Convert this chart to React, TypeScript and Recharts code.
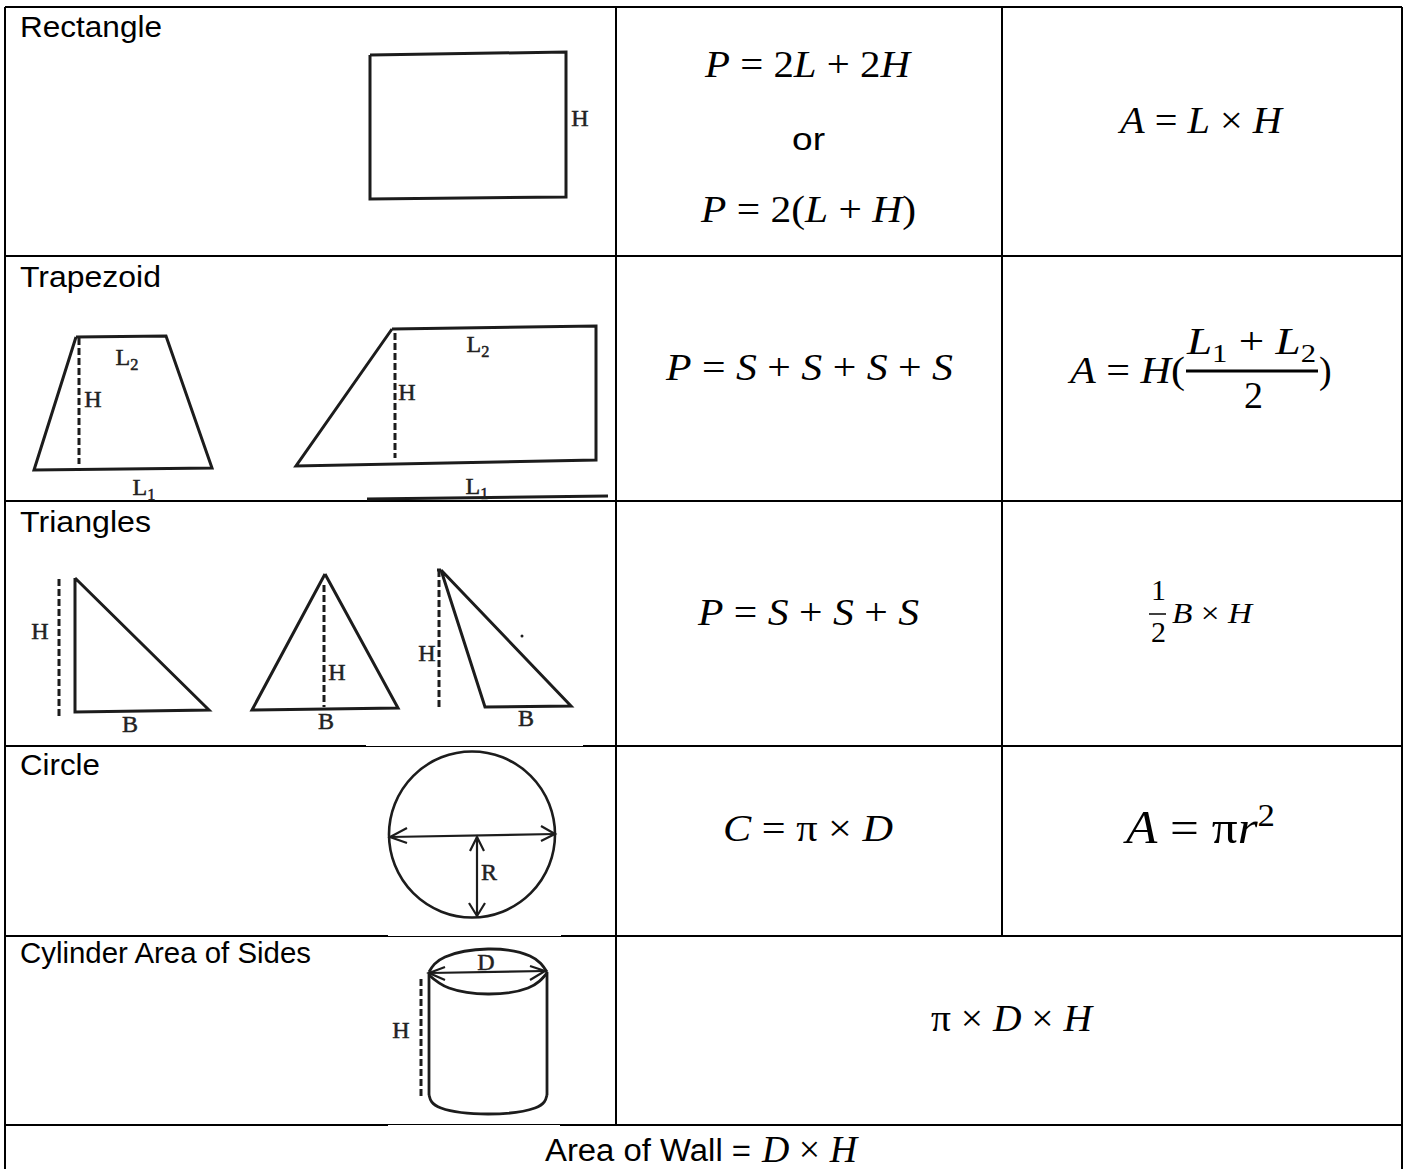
import React from "react";
import { LineChart, Line, XAxis, YAxis, ReferenceDot, LabelList } from "recharts";

type P = { x: number; y: number };
type T = P & { text: string };
const pts = (...v: number[]): P[] => {
  const out: P[] = [];
  for (let i = 0; i < v.length; i += 2) out.push({ x: v[i], y: v[i + 1] });
  return out;
};

// table rules
const gridLines: P[][] = [
  pts(5, 7, 1402, 7),
  pts(5, 256, 1402, 256),
  pts(5, 501, 1402, 501),
  pts(5, 746, 1402, 746),
  pts(5, 936, 1402, 936),
  pts(5, 1125, 1402, 1125),
  pts(5, 7, 5, 1169),
  pts(1402, 7, 1402, 1169),
  pts(616, 7, 616, 1125),
  pts(1002, 7, 1002, 936),
];
// where the pasted scans cover half of a rule
const ruleCovers: P[][] = [
  pts(366, 745.5, 583, 745.5),
  pts(388, 935.5, 561, 935.5),
  pts(388, 1125.5, 560, 1125.5),
];

// scanned outlines
const solidOutlines: P[][] = [
  pts(370, 55, 566, 52, 566, 197, 370, 199, 370, 55),
  pts(76, 337, 166, 336, 212, 468, 34, 470, 76, 337),
  pts(392, 329, 596, 326, 596, 460, 296, 466, 392, 329),
  pts(367, 499, 608, 496),
  pts(75, 578, 209, 710, 75, 712, 75, 578),
  pts(325, 574, 398, 708, 252, 710, 325, 574),
  pts(441, 570, 571, 706, 485, 707, 441, 570),
  pts(437, 570, 441, 570),
];
const thinOutlines: P[][] = [
  pts(390, 837, 555, 834),
  pts(407, 828, 390, 837, 407, 843),
  pts(541, 826, 555, 834, 541, 841),
  pts(477, 837, 477, 916),
  pts(470, 851, 477, 837, 484, 851),
  pts(469, 903, 477, 916, 485, 903),
  pts(429, 973, 545, 971),
  pts(445, 967, 429, 973, 445, 980),
  pts(530, 966, 545, 971, 530, 980),
];
const cylinderSides: P[][] = [pts(429, 972, 429, 1095), pts(547, 972, 547, 1095)];
const curvedOutlines: P[][] = [
  pts(429, 972, 445, 957, 488, 949, 530, 956, 547, 972),
  pts(429, 975, 449, 988, 488, 994, 528, 988, 547, 973),
  pts(429, 1095, 441, 1108, 488, 1114, 535, 1108, 547, 1095),
];
const dashedOutlines: P[][] = [
  pts(79, 338, 79, 464),
  pts(395, 333, 395, 458),
  pts(59, 579, 59, 717),
  pts(324, 585, 324, 707),
  pts(439, 570, 439, 708),
  pts(421, 979, 421, 1099),
];
const fractionBars: P[][] = [pts(1186, 371, 1318, 371)];
const thinBars: P[][] = [pts(1149, 614, 1166, 614)];
const circleCentre: P = { x: 472, y: 834.5 };
const speck: P = { x: 522, y: 636 };

// text
const headings: T[] = [
  { x: 20, y: 37, text: "Rectangle" },
  { x: 20, y: 287, text: "Trapezoid" },
  { x: 20, y: 532, text: "Triangles" },
  { x: 20, y: 775, text: "Circle" },
  { x: 20, y: 963, text: "Cylinder Area of Sides" },
];
const plainNotes: T[] = [
  { x: 792, y: 150, text: "or" },
  { x: 545, y: 1161, text: "Area of Wall =" },
];
const scanLetters: T[] = [
  { x: 580, y: 126, text: "H" },
  { x: 127, y: 365, text: "L₂" },
  { x: 93, y: 407, text: "H" },
  { x: 144, y: 495, text: "L₁" },
  { x: 478, y: 352, text: "L₂" },
  { x: 407, y: 400, text: "H" },
  { x: 477, y: 494, text: "L₁" },
  { x: 40, y: 639, text: "H" },
  { x: 130, y: 732, text: "B" },
  { x: 337, y: 680, text: "H" },
  { x: 326, y: 729, text: "B" },
  { x: 427, y: 661, text: "H" },
  { x: 526, y: 726, text: "B" },
  { x: 489, y: 880, text: "R" },
  { x: 486, y: 970, text: "D" },
  { x: 401, y: 1038, text: "H" },
];
const mathMain: T[] = [
  { x: 705, y: 77, text: "P = 2L + 2H" },
  { x: 701, y: 222, text: "P = 2(L + H)" },
  { x: 1120, y: 133, text: "A = L × H" },
  { x: 666, y: 380, text: "P = S + S + S + S" },
  { x: 1070, y: 383, text: "A = H(" },
  { x: 1187, y: 354, text: "L₁ + L₂" },
  { x: 1244, y: 408, text: "2" },
  { x: 1319, y: 383, text: ")" },
  { x: 698, y: 625, text: "P = S + S + S" },
  { x: 723, y: 841, text: "C = π × D" },
  { x: 931, y: 1031, text: "π × D × H" },
  { x: 762, y: 1162, text: "D × H" },
];
const mathSmall: T[] = [{ x: 1172, y: 623, text: "B × H" }];
const mathMid: T[] = [
  { x: 1151, y: 600, text: "1" },
  { x: 1151, y: 642, text: "2" },
];
const mathLarge: T[] = [{ x: 1126, y: 843, text: "A = πr²" }];

const textWidths: Record<string, number> = {
  Rectangle: 142,
  Trapezoid: 141,
  Triangles: 131,
  Circle: 80,
  "Cylinder Area of Sides": 291,
  or: 33,
  "Area of Wall =": 206,
  "P = 2L + 2H": 205,
  "P = 2(L + H)": 215,
  "A = L × H": 162,
  "P = S + S + S + S": 287,
  "A = H(": 115,
  "L₁ + L₂": 129,
  "P = S + S + S": 221,
  "C = π × D": 170,
  "π × D × H": 161,
  "D × H": 95,
  "B × H": 80,
  "A = πr²": 149,
};

const INK = "#000";
const SCAN = "#1c1c1c";
const MATH_FONT = "'Liberation Serif', serif";
const SANS_FONT = "'Liberation Sans', Arial, sans-serif";
const SCRIPT: Record<string, { digit: string; shift: number }> = {
  "₁": { digit: "1", shift: 0.22 },
  "₂": { digit: "2", shift: 0.22 },
  "²": { digit: "2", shift: -0.38 },
};

const richSpans = (s: string, size: number, math: boolean) => {
  let shifted = 0;
  return s
    .split(/([A-Za-z]|[₁₂²])/)
    .filter(Boolean)
    .map((part, i) => {
      const script = SCRIPT[part];
      const target = script ? script.shift * size : 0;
      const dy = target - shifted;
      shifted = target;
      return (
        <tspan
          key={i}
          dy={dy || undefined}
          fontSize={script ? size * 0.68 : undefined}
          fontStyle={math && /[A-Za-z]/.test(part) ? "italic" : "normal"}
        >
          {script ? script.digit : part}
        </tspan>
      );
    });
};

const pathLine = (
  key: string,
  data: P[],
  stroke: string,
  strokeWidth: number,
  extra: Record<string, unknown> = {},
) => (
  <Line
    key={key}
    data={data}
    dataKey="y"
    type="linear"
    stroke={stroke}
    strokeWidth={strokeWidth}
    dot={false}
    activeDot={false}
    legendType="none"
    isAnimationActive={false}
    {...extra}
  />
);

const textLayer = (
  key: string,
  rows: T[],
  font: string,
  size: number,
  opts: { math?: boolean; anchor?: "start" | "middle"; fill?: string; bold?: number } = {},
) => (
  <Line
    key={key}
    data={rows}
    dataKey="y"
    stroke="none"
    dot={false}
    activeDot={false}
    legendType="none"
    isAnimationActive={false}
  >
    <LabelList
      dataKey="text"
      content={(p: any) => {
        const s = String(p.value);
        const w = textWidths[s];
        return (
          <text
            x={p.x}
            y={p.y}
            fontFamily={font}
            fontSize={size}
            fill={opts.fill ?? INK}
            stroke={opts.bold ? opts.fill ?? INK : "none"}
            strokeWidth={opts.bold ?? 0}
            textAnchor={opts.anchor ?? "start"}
            {...(w ? { textLength: w, lengthAdjust: "spacingAndGlyphs" } : {})}
          >
            {richSpans(s, size, !!opts.math)}
          </text>
        );
      }}
    />
  </Line>
);

export default function App() {
  return (
    <div style={{ position: "absolute", left: 0, top: 0, width: 1403, height: 1169, background: "#fff" }}>
      <LineChart width={1403} height={1169} margin={{ top: 0, right: 0, bottom: 0, left: 0 }}>
        <XAxis type="number" dataKey="x" domain={[0, 1403]} hide allowDataOverflow />
        <YAxis type="number" domain={[0, 1169]} reversed hide allowDataOverflow />
        {gridLines.map((d, i) => pathLine(`g${i}`, d, INK, 2))}
        {ruleCovers.map((d, i) => pathLine(`w${i}`, d, "#fff", 1))}
        {solidOutlines.map((d, i) => pathLine(`s${i}`, d, SCAN, 3))}
        {thinOutlines.map((d, i) => pathLine(`h${i}`, d, SCAN, 2.2))}
        {cylinderSides.map((d, i) => pathLine(`y${i}`, d, SCAN, 2.8))}
        {curvedOutlines.map((d, i) => pathLine(`c${i}`, d, SCAN, 2.8, { type: "natural" }))}
        {dashedOutlines.map((d, i) => pathLine(`d${i}`, d, SCAN, 3, { strokeDasharray: "7 3" }))}
        {fractionBars.map((d, i) => pathLine(`f${i}`, d, INK, 3))}
        {thinBars.map((d, i) => pathLine(`t${i}`, d, INK, 1.5))}
        <ReferenceDot x={circleCentre.x} y={circleCentre.y} r={83} fill="none" stroke={SCAN} strokeWidth={2.6} />
        <ReferenceDot x={speck.x} y={speck.y} r={1.5} fill={SCAN} stroke="none" />
        {textLayer("th", headings, SANS_FONT, 29)}
        {textLayer("tp", plainNotes, SANS_FONT, 31)}
        {textLayer("ts", scanLetters, MATH_FONT, 24, { anchor: "middle", fill: "#222", bold: 0.5 })}
        {textLayer("tm", mathMain, MATH_FONT, 38, { math: true })}
        {textLayer("tn", mathSmall, MATH_FONT, 29, { math: true })}
        {textLayer("to", mathMid, MATH_FONT, 30, { math: true })}
        {textLayer("tl", mathLarge, MATH_FONT, 46, { math: true })}
      </LineChart>
    </div>
  );
}
